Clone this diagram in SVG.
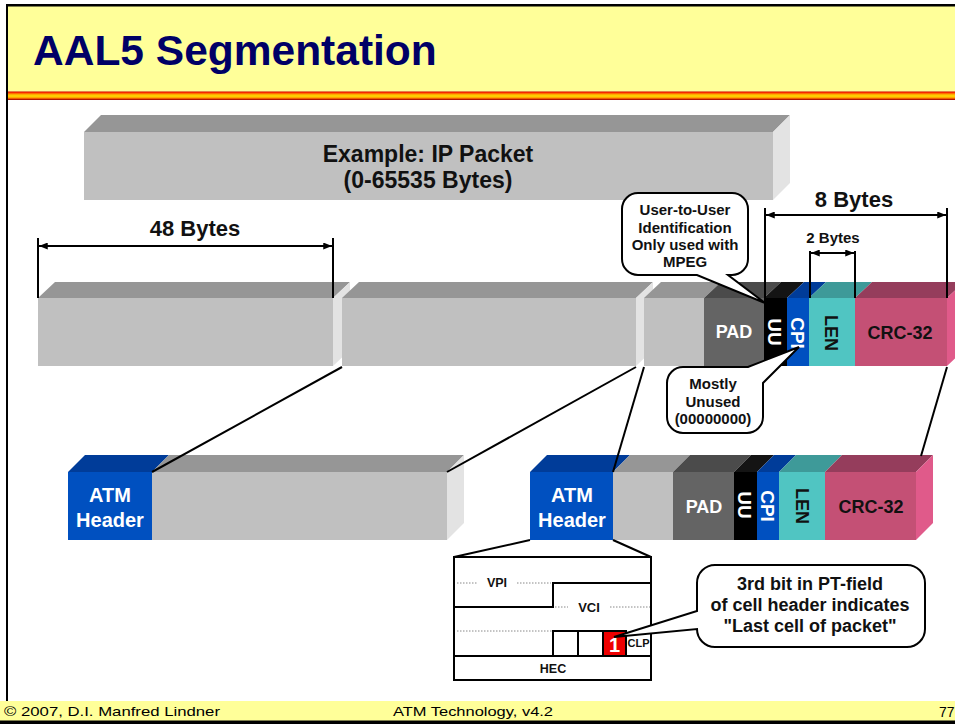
<svg xmlns="http://www.w3.org/2000/svg" width="955" height="724" viewBox="0 0 955 724">
<style>
  text { font-family: "Liberation Sans", Arial, sans-serif; font-weight: bold; }
  .t { fill: #111; }
  .w { fill: #fff; }
  .grayF { fill: #C0C0C0; }
  .grayT { fill: #969696; }
  .side { fill: #E3E3E3; }
  .padF { fill: #646464; }
  .padT { fill: #4B4B4B; }
  .uuF { fill: #000; }
  .uuT { fill: #141414; }
  .cpiF { fill: #0050C0; }
  .cpiT { fill: #003C99; }
  .lenF { fill: #50C5C2; }
  .lenT { fill: #3E9A99; }
  .crcF { fill: #C45075; }
  .crcT { fill: #953D5C; }
  .crcS { fill: #E05A8A; }
  .ln { stroke: #000; stroke-width: 2; fill: none; }
  .dot { stroke: #888; stroke-width: 1; stroke-dasharray: 1.5 1.5; fill: none; }
  .call { fill: #fff; stroke: #000; stroke-width: 2; }
  .foot { font-weight: normal; fill: #000; }
</style>
<defs>
  <linearGradient id="stripe" x1="0" y1="0" x2="0" y2="1">
    <stop offset="0" stop-color="#CC0000"/>
    <stop offset="0.15" stop-color="#FF3300"/>
    <stop offset="0.3" stop-color="#FF9900"/>
    <stop offset="0.45" stop-color="#FFCC00"/>
    <stop offset="0.6" stop-color="#FFCC00"/>
    <stop offset="0.75" stop-color="#FF9900"/>
    <stop offset="0.88" stop-color="#E03000"/>
    <stop offset="1" stop-color="#800000"/>
  </linearGradient>
  <marker id="ar" viewBox="0 0 10 8" refX="10" refY="4" markerWidth="10" markerHeight="7" markerUnits="userSpaceOnUse" orient="auto-start-reverse">
    <path d="M0,0 L10,4 L0,8 z" fill="#000"/>
  </marker>
</defs>

<rect x="0" y="0" width="955" height="724" fill="#fff"/>

<g id="frame">
  <rect x="8" y="6" width="947" height="86" fill="#FFFF99"/>
  <rect x="6" y="91.5" width="949" height="8.5" fill="url(#stripe)"/>
  <rect x="6" y="4" width="949" height="2.5" fill="#000"/>
  <rect x="6" y="4" width="2" height="697" fill="#000"/>
  <rect x="0" y="701" width="955" height="20" fill="#FFFF99"/>
  <rect x="0" y="720.5" width="955" height="3.5" fill="#000"/>
</g>

<g id="title">
  <text x="33" y="65" font-size="42.5" fill="#000066">AAL5 Segmentation</text>
</g>

<g id="ip-packet">
  <polygon class="grayT" points="84,132 101,115 790,115 773,132"/>
  <polygon class="side" points="773,132 790,115 790,183 773,200"/>
  <rect class="grayF" x="84" y="132" width="689" height="68"/>
  <text class="t" x="428" y="162" font-size="23" text-anchor="middle">Example: IP Packet</text>
  <text class="t" x="428" y="188" font-size="23" text-anchor="middle">(0-65535 Bytes)</text>
</g>

<g id="segment1">
  <polygon class="grayT" points="38,298 55,282 350,282 333,298"/>
  <polygon class="side" points="333,298 350,282 350,350 333,366"/>
  <rect class="grayF" x="38" y="298" width="295" height="68"/>
</g>

<g id="segment2">
  <polygon class="grayT" points="342,298 359,282 653,282 636,298"/>
  <polygon class="side" points="636,298 653,282 653,350 636,366"/>
  <rect class="grayF" x="342" y="298" width="294" height="68"/>
</g>

<g id="segment3">
  <polygon class="grayT" points="644,298 661,282 721,282 704,298"/>
  <rect class="grayF" x="644" y="298" width="60" height="68"/>
  <polygon class="padT" points="704,298 721,282 781,282 764,298"/>
  <rect class="padF" x="704" y="298" width="60" height="68"/>
  <polygon class="uuT" points="764,298 781,282 804,282 787,298"/>
  <rect class="uuF" x="764" y="298" width="23" height="68"/>
  <polygon class="cpiT" points="787,298 804,282 826,282 809,298"/>
  <rect class="cpiF" x="787" y="298" width="22" height="68"/>
  <polygon class="lenT" points="809,298 826,282 872,282 855,298"/>
  <rect class="lenF" x="809" y="298" width="46" height="68"/>
  <polygon class="crcT" points="855,298 872,282 964,282 947,298"/>
  <rect class="crcF" x="855" y="298" width="92" height="68"/>
  <polygon class="crcS" points="947,298 964,282 964,350 947,366"/>
  <text class="w" x="734" y="338" font-size="18" text-anchor="middle">PAD</text>
  <text class="w" font-size="19" text-anchor="middle" transform="translate(775,332) rotate(90)" y="7">UU</text>
  <text class="w" font-size="19" text-anchor="middle" transform="translate(798,333) rotate(90)" y="7">CPI</text>
  <text class="t" font-size="18" text-anchor="middle" transform="translate(831,333) rotate(90)" y="6.5">LEN</text>
  <text class="t" x="900" y="339" font-size="18" text-anchor="middle">CRC-32</text>
</g>

<g id="cell1">
  <polygon class="cpiT" points="68,472 85,455 169,455 152,472"/>
  <rect class="cpiF" x="68" y="472" width="84" height="68"/>
  <polygon class="grayT" points="152,472 169,455 464,455 447,472"/>
  <rect class="grayF" x="152" y="472" width="295" height="68"/>
  <polygon class="side" points="447,472 464,455 464,523 447,540"/>
  <text class="w" x="110" y="502" font-size="20" text-anchor="middle">ATM</text>
  <text class="w" x="110" y="527" font-size="20" text-anchor="middle">Header</text>
</g>

<g id="cell2">
  <polygon class="cpiT" points="530,472 547,455 630,455 613,472"/>
  <rect class="cpiF" x="530" y="472" width="83" height="68"/>
  <polygon class="grayT" points="613,472 630,455 690,455 673,472"/>
  <rect class="grayF" x="613" y="472" width="60" height="68"/>
  <polygon class="padT" points="673,472 690,455 751,455 734,472"/>
  <rect class="padF" x="673" y="472" width="61" height="68"/>
  <polygon class="uuT" points="734,472 751,455 774,455 757,472"/>
  <rect class="uuF" x="734" y="472" width="23" height="68"/>
  <polygon class="cpiT" points="757,472 774,455 796,455 779,472"/>
  <rect class="cpiF" x="757" y="472" width="22" height="68"/>
  <polygon class="lenT" points="779,472 796,455 842,455 825,472"/>
  <rect class="lenF" x="779" y="472" width="46" height="68"/>
  <polygon class="crcT" points="825,472 842,455 933,455 916,472"/>
  <rect class="crcF" x="825" y="472" width="91" height="68"/>
  <polygon class="crcS" points="916,472 933,455 933,523 916,540"/>
  <text class="w" x="572" y="502" font-size="20" text-anchor="middle">ATM</text>
  <text class="w" x="572" y="527" font-size="20" text-anchor="middle">Header</text>
  <text class="w" x="704" y="513" font-size="18" text-anchor="middle">PAD</text>
  <text class="w" font-size="19" text-anchor="middle" transform="translate(745,505) rotate(90)" y="7">UU</text>
  <text class="w" font-size="19" text-anchor="middle" transform="translate(768,506) rotate(90)" y="7">CPI</text>
  <text class="t" font-size="18" text-anchor="middle" transform="translate(802,506) rotate(90)" y="6.5">LEN</text>
  <text class="t" x="871" y="513" font-size="18" text-anchor="middle">CRC-32</text>
</g>

<g id="header-detail">
  <rect x="454" y="557" width="197" height="123" fill="#fff" stroke="#000" stroke-width="2"/>
  <path class="ln" d="M454,607 H553 V583 H651"/>
  <path class="dot" d="M457,583 H478 M517,583 H551 M555,607 H568 M610,607 H650 M457,631 H553"/>
  <rect x="603" y="631" width="23" height="25" fill="#EE0000"/>
  <path class="ln" d="M553,656 V631 H626 V656 M578,631 V656 M603,631 V656 M454,656 H651"/>
  <text class="t" x="497" y="587" font-size="12.5" text-anchor="middle">VPI</text>
  <text class="t" x="589" y="612" font-size="13" text-anchor="middle">VCI</text>
  <text class="t" x="553" y="673" font-size="12.5" text-anchor="middle">HEC</text>
  <text class="t" x="638.5" y="647" font-size="11" text-anchor="middle">CLP</text>
  <text class="w" x="614.5" y="652" font-size="20" text-anchor="middle">1</text>
</g>

<g id="connectors">
  <line class="ln" x1="342" y1="367" x2="152" y2="472"/>
  <line class="ln" x1="636" y1="367" x2="447" y2="472"/>
  <line class="ln" x1="644" y1="367" x2="613" y2="472"/>
  <line class="ln" x1="947" y1="367" x2="921" y2="456"/>
  <line class="ln" x1="530" y1="540" x2="454" y2="557"/>
  <line class="ln" x1="613" y1="540" x2="651" y2="557"/>
</g>

<g id="dim-48">
  <path class="ln" d="M38,238 V298 M333,238 V298"/>
  <line class="ln" x1="39" y1="246" x2="332" y2="246" marker-start="url(#ar)" marker-end="url(#ar)"/>
  <text class="t" x="195" y="236" font-size="22" text-anchor="middle">48 Bytes</text>
</g>

<g id="dim-8">
  <path class="ln" d="M765,208 V302 M947,208 V298"/>
  <line class="ln" x1="766" y1="215" x2="946" y2="215" marker-start="url(#ar)" marker-end="url(#ar)"/>
  <text class="t" x="854" y="207" font-size="22" text-anchor="middle">8 Bytes</text>
</g>

<g id="dim-2">
  <path class="ln" d="M810,251 V298 M855,251 V298"/>
  <line class="ln" x1="811" y1="253" x2="854" y2="253" marker-start="url(#ar)" marker-end="url(#ar)"/>
  <text class="t" x="833" y="243" font-size="15" text-anchor="middle">2 Bytes</text>
</g>

<g id="callout-uu">
  <path class="call" d="M638,193 H732 A16,16 0 0 1 748,209 V259 A16,16 0 0 1 732,275 H728 L765,303 L697,275 H638 A16,16 0 0 1 622,259 V209 A16,16 0 0 1 638,193 Z"/>
  <text class="t" x="685" y="215" font-size="15" text-anchor="middle">User-to-User</text>
  <text class="t" x="685" y="233" font-size="15" text-anchor="middle">Identification</text>
  <text class="t" x="685" y="250" font-size="15" text-anchor="middle">Only used with</text>
  <text class="t" x="685" y="267" font-size="15" text-anchor="middle">MPEG</text>
</g>

<g id="callout-cpi">
  <path class="call" d="M683,367 H748 L799,347 L763,383 V417 A16,16 0 0 1 747,433 H683 A16,16 0 0 1 667,417 V383 A16,16 0 0 1 683,367 Z"/>
  <text class="t" x="713" y="389" font-size="15" text-anchor="middle">Mostly</text>
  <text class="t" x="713" y="407" font-size="15" text-anchor="middle">Unused</text>
  <text class="t" x="713" y="424" font-size="15" text-anchor="middle">(00000000)</text>
</g>

<g id="callout-pt">
  <path class="call" d="M715,565 H907 A18,18 0 0 1 925,583 V629 A18,18 0 0 1 907,647 H715 A18,18 0 0 1 697,629 L614,637 L697,611 V583 A18,18 0 0 1 715,565 Z"/>
  <text class="t" x="810" y="590" font-size="18" text-anchor="middle">3rd bit in PT-field</text>
  <text class="t" x="810" y="611" font-size="18" text-anchor="middle">of cell header indicates</text>
  <text class="t" x="810" y="632" font-size="18" text-anchor="middle">"Last cell of packet"</text>
</g>

<g id="footer">
  <text class="foot" x="4" y="716" font-size="13" textLength="216" lengthAdjust="spacingAndGlyphs">© 2007, D.I. Manfred Lindner</text>
  <text class="foot" x="393" y="716" font-size="13" textLength="160" lengthAdjust="spacingAndGlyphs">ATM Technology, v4.2</text>
  <text class="foot" x="939" y="717" font-size="14">77</text>
</g>
</svg>
